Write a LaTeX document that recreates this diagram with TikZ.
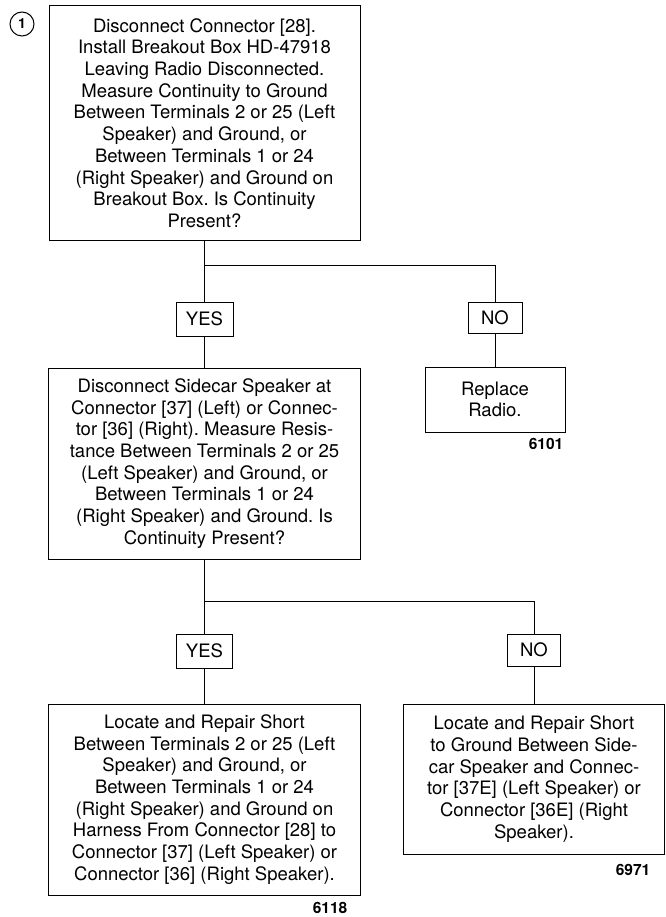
\documentclass[tikz,border=0pt]{standalone}
\usepackage{fontspec}
\setmainfont{TeX Gyre Heros}
\frenchspacing
\begin{document}
\begin{tikzpicture}[x=1pt,y=-1pt,
  box/.style={draw,line width=1pt,rectangle,inner sep=0pt,align=center,
    font=\fontsize{18.5}{21.7}\selectfont},
  tag/.style={draw,line width=1pt,rectangle,inner sep=0pt,
    font=\fontsize{18.5}{21.7}\selectfont},
  num/.style={inner sep=0pt,font=\fontsize{15.5}{18}\selectfont\bfseries},
  wire/.style={line width=0.9pt}]
\useasboundingbox (0,0) rectangle (665,917);
\node[draw,circle,line width=1pt,minimum size=24pt,inner sep=0pt,
  font=\fontsize{14}{16}\selectfont\bfseries] (c1) at (22,24) {1};
\node[box,minimum width=311pt,minimum height=234pt] (b1) at (204.5,123)
  {Disconnect Connector [28].\\Install Breakout Box HD-47918\\Leaving Radio Disconnected.\\Measure Continuity to Ground\\Between Terminals 2 or 25 (Left\\Speaker) and Ground, or\\Between Terminals 1 or 24\\(Right Speaker) and Ground on\\Breakout Box. Is Continuity\\Present?};
\node[tag,minimum width=57pt,minimum height=34pt] (y1) at (204.5,319) {YES};
\node[tag,minimum width=54pt,minimum height=31pt] (n1) at (495,317.5) {NO};
\node[box,minimum width=312pt,minimum height=191pt] (b2) at (204.5,463.5)
  {Disconnect Sidecar Speaker at\\Connector [37] (Left) or Connec-\\tor [36] (Right). Measure Resis-\\tance Between Terminals 2 or 25\\(Left Speaker) and Ground, or\\Between Terminals 1 or 24\\(Right Speaker) and Ground. Is\\Continuity Present?};
\node[box,minimum width=140pt,minimum height=65pt] (r1) at (495,399.5)
  {Replace\\Radio.};
\node[num] (l1) at (546,444) {6101};
\node[tag,minimum width=56pt,minimum height=34pt] (y2) at (204.5,651) {YES};
\node[tag,minimum width=53pt,minimum height=32pt] (n2) at (534,650) {NO};
\node[box,minimum width=312pt,minimum height=191pt] (b3) at (204.5,799.5)
  {Locate and Repair Short\\Between Terminals 2 or 25 (Left\\Speaker) and Ground, or\\Between Terminals 1 or 24\\(Right Speaker) and Ground on\\Harness From Connector [28] to\\Connector [37] (Left Speaker) or\\Connector [36] (Right Speaker).};
\node[num] (l2) at (330,908) {6118};
\node[box,minimum width=261pt,minimum height=150pt] (b4) at (534,779)
  {Locate and Repair Short\\to Ground Between Side-\\car Speaker and Connec-\\tor [37E] (Left Speaker) or\\Connector [36E] (Right\\Speaker).};
\node[num] (l3) at (633,870) {6971};
\coordinate (j1) at (204.5,265);
\coordinate (j2) at (204.5,601);
\draw[wire] (b1.south) -- (j1) -- (y1.north);
\draw[wire] (j1) -| (n1.north);
\draw[wire] (y1.south) -- (b2.north);
\draw[wire] (n1.south) -- (r1.north);
\draw[wire] (b2.south) -- (j2) -- (y2.north);
\draw[wire] (j2) -| (n2.north);
\draw[wire] (y2.south) -- (b3.north);
\draw[wire] (n2.south) -- (b4.north);
\end{tikzpicture}
\end{document}
